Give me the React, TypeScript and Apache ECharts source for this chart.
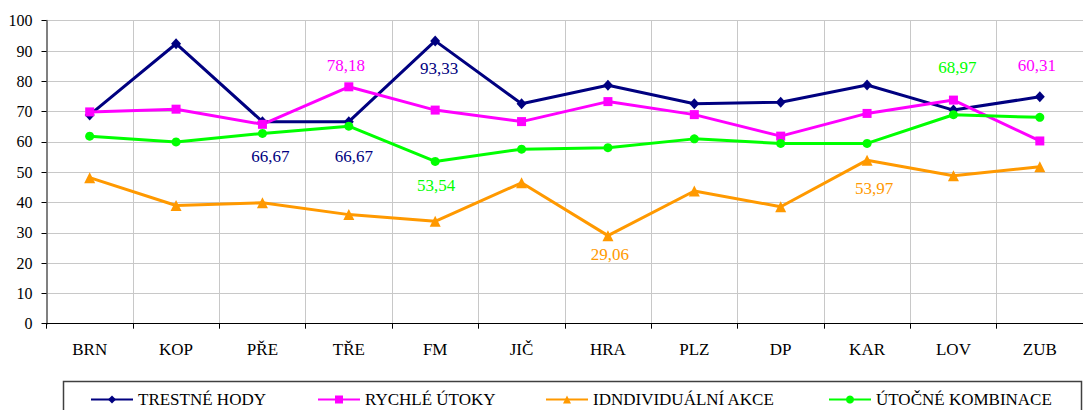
import React, { useEffect, useRef } from "react";
import * as echarts from "echarts";

const categories = ["BRN", "KOP", "PŘE", "TŘE", "FM", "JIČ", "HRA", "PLZ", "DP", "KAR", "LOV", "ZUB"];
const seriesNames = ["TRESTNÉ HODY", "RYCHLÉ ÚTOKY", "IDNDIVIDUÁLNÍ AKCE", "ÚTOČNÉ KOMBINACE"];
const trestneHody = [68.9, 92.4, 66.67, 66.67, 93.33, 72.6, 78.7, 72.6, 73.1, 78.8, 70.5, 74.9];
const rychleUtoky = [69.9, 70.8, 65.8, 78.18, 70.5, 66.7, 73.3, 69.0, 61.9, 69.4, 73.8, 60.31];
const individualniAkce = [48.2, 39.0, 39.9, 36.0, 33.8, 46.5, 29.06, 43.8, 38.6, 53.97, 48.8, 51.8];
const utocneKombinace = [61.9, 60.0, 62.8, 65.2, 53.54, 57.6, 58.1, 61.0, 59.5, 59.5, 68.97, 68.1];
const yTicks = { min: 0, max: 100, interval: 10 };

// which points carry a value label, and where the label sits relative to the point
const annotations = [
  { series: 0, index: 2, dx: 8, dy: 35 },
  { series: 0, index: 3, dx: 5, dy: 35 },
  { series: 0, index: 4, dx: 4, dy: 28 },
  { series: 1, index: 3, dx: -3, dy: -21 },
  { series: 1, index: 11, dx: -3, dy: -75 },
  { series: 2, index: 6, dx: 2, dy: 19 },
  { series: 2, index: 9, dx: 7, dy: 28 },
  { series: 3, index: 4, dx: 1, dy: 24 },
  { series: 3, index: 10, dx: 4, dy: -47 },
];

const FONT = "Liberation Serif";
const colors = ["#000080", "#FF00FF", "#FF9900", "#00FF00"];
const symbols = ["diamond", "rect", "triangle", "circle"];
const symbolSizes: any[] = [[10, 11], 9, 11, 9];
const legendLefts = [90, 317, 545, 828];

export default function App() {
  const ref = useRef<HTMLDivElement>(null);
  useEffect(() => {
    if (!ref.current) return;
    const chart = echarts.init(ref.current, undefined, { renderer: "svg" });
    const all = [trestneHody, rychleUtoky, individualniAkce, utocneKombinace];
    const series = all.map((vals, s) => ({
      name: seriesNames[s],
      type: "line",
      data: vals.map((v, i) => {
        const a = annotations.find((x) => x.series === s && x.index === i);
        if (!a) return v;
        return {
          value: v,
          label: {
            show: true,
            position: "inside",
            offset: [a.dx, a.dy],
            color: colors[s],
            fontFamily: FONT,
            fontSize: 17,
            formatter: (p: any) => String(p.value).replace(".", ","),
          },
        };
      }),
      symbol: symbols[s],
      symbolSize: symbolSizes[s],
      showAllSymbol: true,
      lineStyle: { color: colors[s], width: 3 },
      itemStyle: { color: colors[s] },
      label: { show: false },
      emphasis: { disabled: true },
    }));
    chart.setOption({
      animation: false,
      textStyle: { fontFamily: FONT },
      grid: { left: 46.5, right: -11, top: 20.7, bottom: 86.3, containLabel: false },
      xAxis: {
        type: "category",
        data: categories,
        boundaryGap: true,
        axisLine: { show: true, lineStyle: { color: "#000", width: 1 } },
        axisTick: { show: true, length: 5, lineStyle: { color: "#000" } },
        axisLabel: { color: "#000", fontFamily: FONT, fontSize: 17, margin: 17 },
        splitLine: { show: true, lineStyle: { color: "#c8c8c8", width: 1 } },
      },
      yAxis: {
        type: "value",
        min: yTicks.min,
        max: yTicks.max,
        interval: yTicks.interval,
        axisLine: { show: true, lineStyle: { color: "#808080", width: 2 } },
        axisTick: { show: true, length: 5, lineStyle: { color: "#000" } },
        axisLabel: { color: "#000", fontFamily: FONT, fontSize: 16, margin: 14 },
        splitLine: { show: true, lineStyle: { color: "#c8c8c8", width: 1 } },
      },
      legend: seriesNames.map((n, i) => ({
        data: [n],
        left: legendLefts[i],
        top: 391,
        padding: 0,
        itemWidth: 42,
        itemHeight: 10,
        selectedMode: false,
        textStyle: { color: "#000", fontFamily: FONT, fontSize: 17 },
      })),
      graphic: [
        {
          type: "rect",
          shape: { x: 63.5, y: 381.5, width: 1018, height: 40 },
          style: { fill: "none", stroke: "#404040", lineWidth: 1.5 },
          silent: true,
        },
      ],
      series,
    });
    return () => chart.dispose();
  }, []);
  return (
    <div
      ref={ref}
      style={{ position: "fixed", left: 0, top: 0, width: 1083, height: 410, background: "#fff" }}
    />
  );
}
